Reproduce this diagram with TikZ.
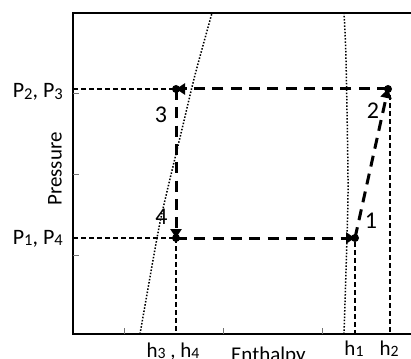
\documentclass[tikz,border=0pt]{standalone}
\usepackage{fontspec}
\setmainfont{Carlito}
\usetikzlibrary{arrows.meta}
\newcommand\sbs[1]{\raisebox{-0.08em}{\fontsize{0.75em}{0.75em}\selectfont #1}}
\begin{document}
\begin{tikzpicture}[x=1pt,y=-1pt,
 axisline/.style={line width=2.4pt},
 tickline/.style={line width=0.8pt, black!55},
 guide/.style={line width=1.2pt, dash pattern=on 5pt off 3pt},
 cyc/.style={line width=3pt, dash pattern=on 11pt off 7.3pt, -{Triangle[length=9pt,width=11pt]}},
 sat/.style={line width=1.5pt, dash pattern=on 1.5pt off 1.7pt},
 lab/.style={font=\fontsize{22}{26}\selectfont, inner sep=0pt},
 ttl/.style={font=\fontsize{21}{25}\selectfont, inner sep=0pt},
 num/.style={font=\fontsize{24}{28}\selectfont, inner sep=0pt},
 dotm/.style={circle, fill, inner sep=0pt, minimum size=8pt}]
\useasboundingbox (0,0) rectangle (411,358);
% axes
\coordinate (tl) at (73,13);
\coordinate (bl) at (73,334);
\coordinate (br) at (411,334);
\coordinate (tr) at (411,13);
\draw[axisline] (tr) -- (tl) -- (bl) -- (br);
% ticks
\foreach \y in {93,174,255} \draw[tickline] (73,\y) -- (79,\y);
\foreach \x in {124,223,322} \draw[tickline] (\x,334) -- (\x,328);
% saturation curves
\draw[sat] plot[smooth] coordinates {(140,334) (157,238) (165,200) (183,125) (195,75) (212,13)};
\draw[sat] plot[smooth] coordinates {(344,334) (347,237) (348,180) (346,60) (344,13)};
% state points
\coordinate (p1) at (355,238);
\coordinate (p2) at (388,89);
\coordinate (p3) at (176,89);
\coordinate (p4) at (176,238);
\coordinate (l3) at (73,89);
\coordinate (l4) at (73,238);
\coordinate (g2) at (390,95);
\coordinate (b2) at (390,334);
\coordinate (g1) at (355,242);
\coordinate (b1) at (355,334);
\coordinate (b4) at (176,334);
% guides
\draw[guide] (l3) -- (p3);
\draw[guide] (l4) -- (p4);
\draw[guide] (p4) -- (b4);
\draw[guide] (g1) -- (b1);
\draw[guide] (g2) -- (b2);
% cycle
\draw[cyc] (p1) -- (p2);
\draw[cyc] (p2) -- (p3);
\draw[cyc] (p3) -- (p4);
\draw[cyc] (p4) -- (p1);
\foreach \p in {p1,p2,p3,p4} \node[dotm] at (\p) {};
% labels
\node[lab, anchor=base east] (lp23) at (63,98) {P\sbs{2}, P\sbs{3}};
\node[lab, anchor=base east] (lp14) at (63,244) {P\sbs{1}, P\sbs{4}};
\node[ttl, rotate=90] (ly) at (55,169) {Pressure};
\node[ttl, anchor=base west] (lx) at (231,361) {Enthalpy};
\node[ttl, anchor=base] (lh34) at (173,357) {h\sbs{3} , h\sbs{4}};
\node[ttl, anchor=base] (lh1) at (354,355) {h\sbs{1}};
\node[ttl, anchor=base] (lh2) at (389,355) {h\sbs{2}};
\node[num, anchor=base] (n3) at (161,122) {3};
\node[num, anchor=base] (n4) at (161.5,224) {4};
\node[num, anchor=base] (n1) at (371,228) {1};
\node[num, anchor=base] (n2) at (373,118) {2};
\end{tikzpicture}
\end{document}
